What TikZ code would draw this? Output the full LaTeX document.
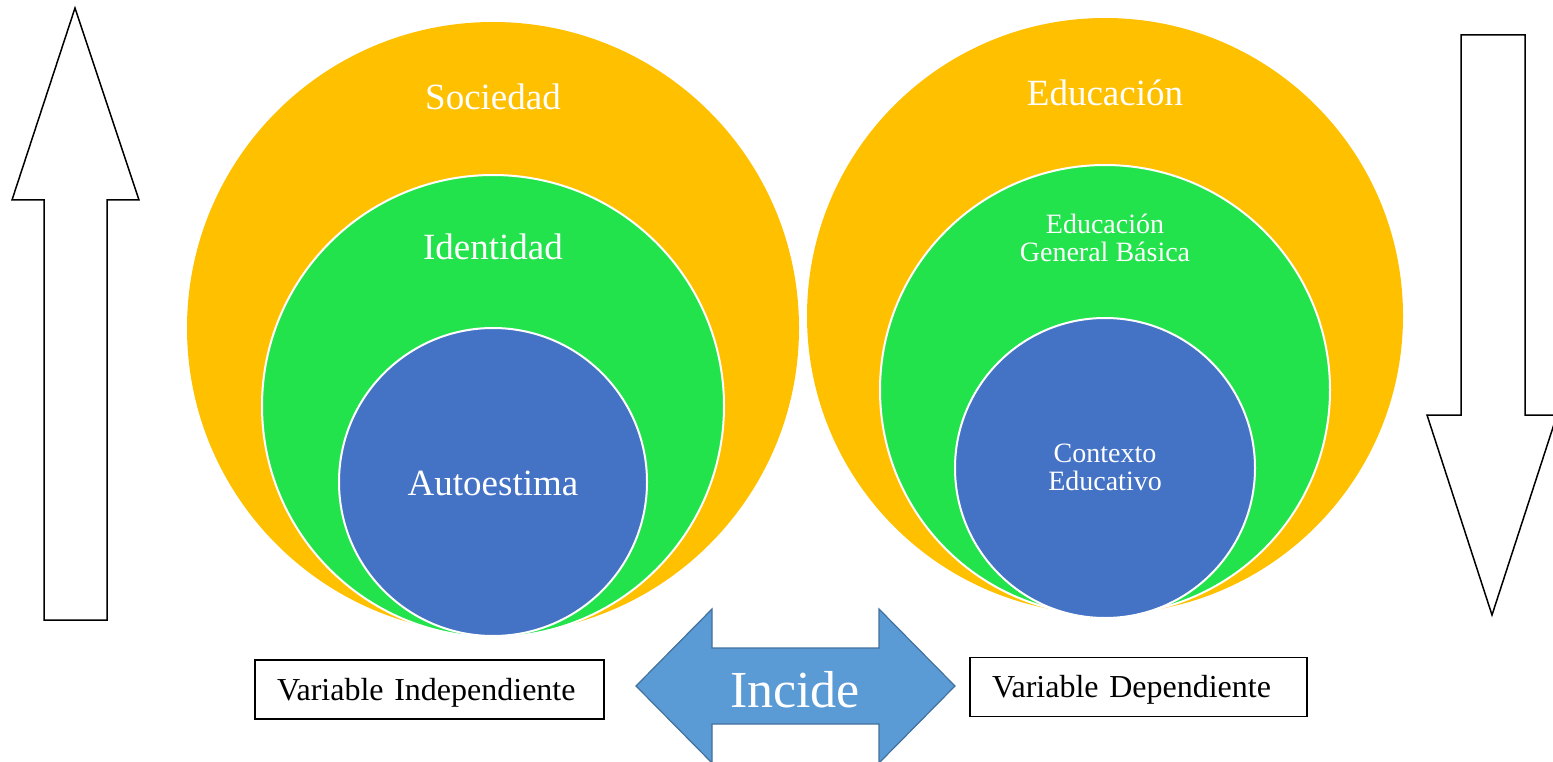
\documentclass[tikz,border=0pt]{standalone}
\usepackage{fontspec}
\setmainfont{Liberation Serif}
\usetikzlibrary{positioning}

\definecolor{ringorange}{HTML}{FFC000}
\definecolor{ringgreen}{HTML}{23E34C}
\definecolor{ringblue}{HTML}{4472C4}
\definecolor{incidefill}{HTML}{5B9BD5}
\definecolor{incidedraw}{HTML}{41719C}

\begin{document}
\begin{tikzpicture}[x=1pt, y=-1pt,
    ring/.style={draw=white, line width=2pt},
    ringtext/.style={text=white, inner sep=0pt},
    varbox/.style={draw=black, line width=1.5pt, inner xsep=22pt, inner ysep=0pt,
        minimum height=59pt, text height=21pt, text depth=0pt,
        align=left, font=\fontsize{32}{36}\selectfont},
    bigarrow/.style={draw=black, line width=1.5pt, fill=white}]

        \useasboundingbox (0,0) rectangle (1553,762);

        \def\leftx{493}
        \def\rightx{1105}

        % left rings
        \fill[ringorange] (\leftx, 328) circle (306pt);
        \filldraw[ring, fill=ringgreen] (\leftx, 406) circle (231pt);
        \filldraw[ring, fill=ringblue] (\leftx, 482) circle (154pt);
        \node[ringtext, font=\fontsize{37}{40}\selectfont] (sociedad) at (\leftx, 97) {Sociedad};
        \node[ringtext, font=\fontsize{37}{40}\selectfont] (identidad) at (\leftx, 247) {Identidad};
        \node[ringtext, font=\fontsize{37}{40}\selectfont] (autoestima) at (\leftx, 483) {Autoestima};

        % right rings
        \fill[ringorange] (\rightx, 316) circle (298pt);
        \filldraw[ring, fill=ringgreen] (\rightx, 390) circle (225pt);
        \filldraw[ring, fill=ringblue] (\rightx, 468) circle (150pt);
        \node[ringtext, font=\fontsize{37}{40}\selectfont] (educacion) at (\rightx, 93) {Educación};
        \node[ringtext, align=center, font=\fontsize{28}{28}\selectfont] (egb) at (\rightx, 238) {Educación\\General Básica};
        \node[ringtext, align=center, font=\fontsize{28}{28}\selectfont] (contexto) at (\rightx, 467) {Contexto\\Educativo};

        % side arrows
        \draw[bigarrow] (75,8) -- (139,200) -- (107,200) -- (107,620) -- (44,620) -- (44,200) -- (12,200) -- cycle;
        \draw[bigarrow] (1461,35) -- (1525,35) -- (1525,415) -- (1557,415) -- (1492,615) -- (1427,415) -- (1461,415) -- cycle;

        % incide
        \filldraw[fill=incidefill, draw=incidedraw, line width=1.2pt]
            (636,686) -- (712,609) -- (712,648) -- (879,648) -- (879,609) -- (955,686)
            -- (879,763) -- (879,724) -- (712,724) -- (712,763) -- cycle;
        \node[ringtext, font=\fontsize{52}{56}\selectfont] (incide) at (795,690) {Incide};

        % variables
        \node[varbox, text width=305pt] (indep) at (429.5,689.5) {Variable Independiente};
        \node[varbox, text width=293pt] (dep) at (1138.5,687) {Variable Dependiente};

\end{tikzpicture}
\end{document}
